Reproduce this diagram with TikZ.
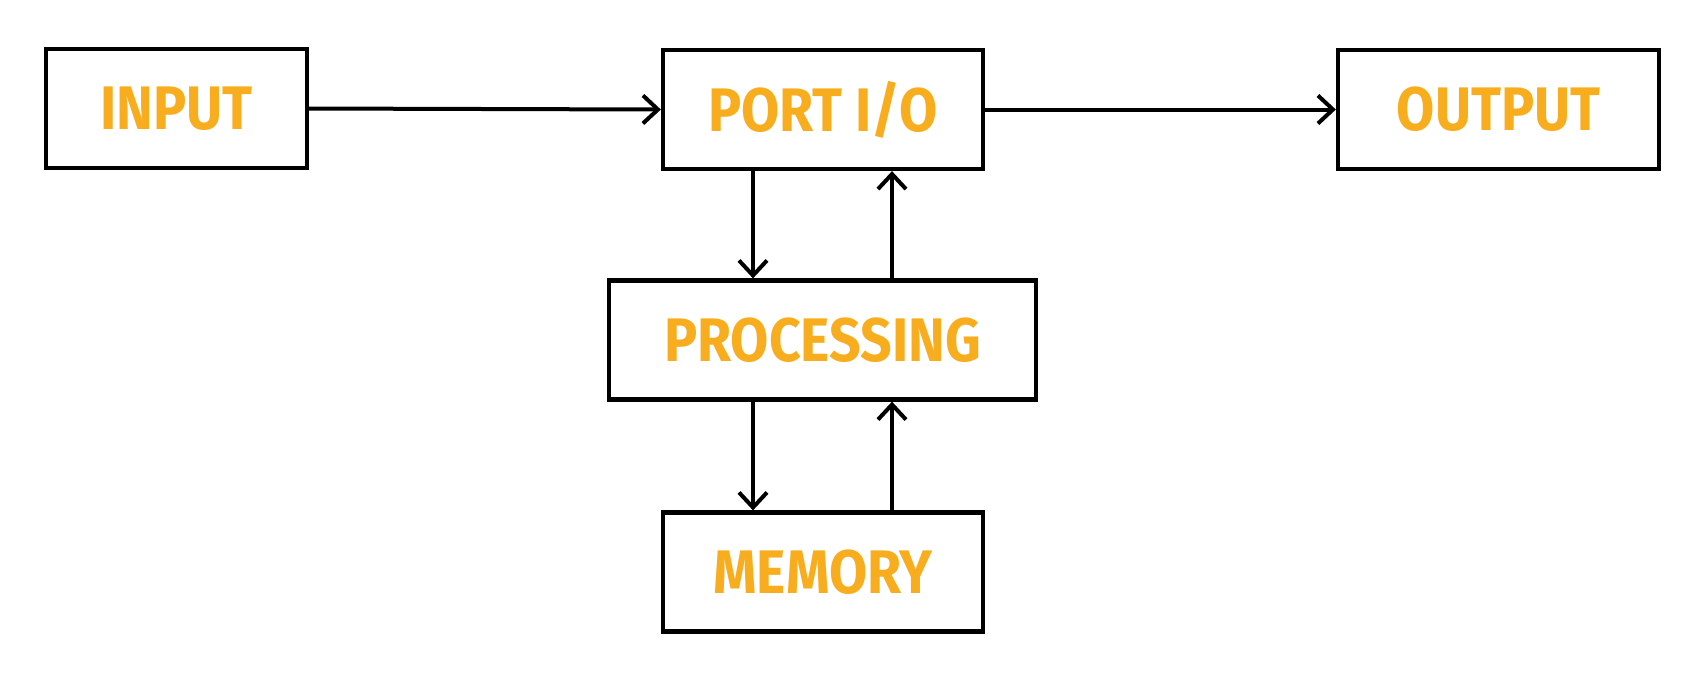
\documentclass[tikz,border=0pt]{standalone}
\usepackage{fontspec}
\setmainfont{Fira Sans}[FakeStretch=0.9]
\usepackage{tikz}
\usetikzlibrary{arrows.meta, positioning}
\definecolor{label}{HTML}{F8AD1E}
\tikzstyle{block} = [draw=black, line width=0.085cm, inner sep=0, minimum height=2.38cm,
                     font=\fontsize{35}{40}\selectfont\bfseries, text=label]
\tikzstyle{link} = [line width=0.08cm, -{Straight Barb[length=0.3cm, width=0.56cm, line width=0.08cm]}]

\begin{document}
\begin{tikzpicture}
				\useasboundingbox (0, 0) rectangle (34.12, -13.64);

				\node (Input) [block, minimum width=5.22cm] at (3.53, -2.17) {INPUT};
				\node (Port) [block, minimum width=6.4cm] at (16.46, -2.19) {PORT I/O};
				\node (Output) [block, minimum width=6.42cm] at (29.97, -2.19) {OUTPUT};
				\node (Proc) [block, minimum width=8.54cm] at (16.45, -6.8) {PROCESSING};
				\node (Mem) [block, minimum width=6.4cm] at (16.46, -11.44) {MEMORY};

				% across the top
				\draw [link] (Input.east) -- (Port.west);
				\draw [link] (Port.east) -- (Output.west);

				% port and processing
				\draw [link] ([xshift=-1.4cm]Port.south) -- ([xshift=-1.4cm]Port.south |- Proc.north);
				\draw [link] ([xshift=1.38cm]Port.south |- Proc.north) -- ([xshift=1.38cm]Port.south);

				% processing and memory
				\draw [link] ([xshift=-1.4cm]Mem.north |- Proc.south) -- ([xshift=-1.4cm]Mem.north);
				\draw [link] ([xshift=1.38cm]Mem.north) -- ([xshift=1.38cm]Mem.north |- Proc.south);
			\end{tikzpicture}
\end{document}
